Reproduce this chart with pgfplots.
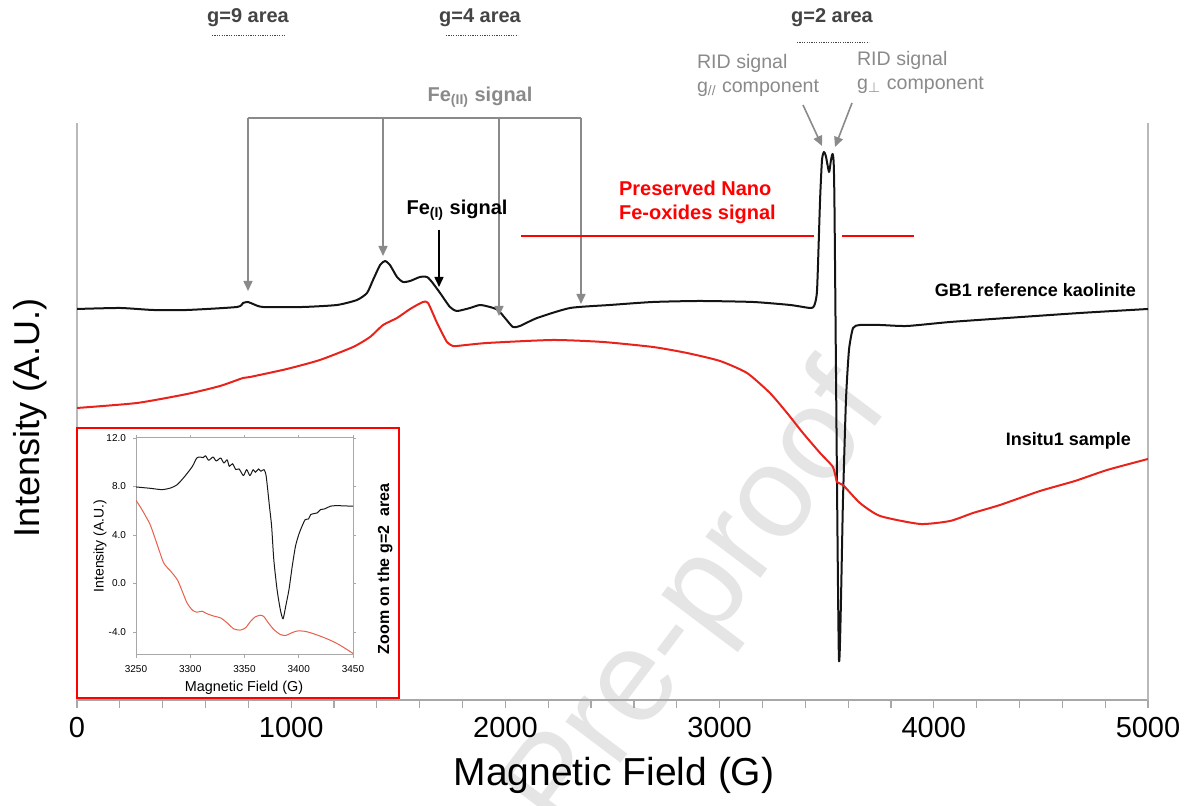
\documentclass[border=0pt]{standalone}
\usepackage{fontspec}
\setmainfont{Liberation Sans}
\usepackage{pgfplots}
\pgfplotsset{compat=1.18}
\usetikzlibrary{arrows.meta}
\definecolor{annogray}{HTML}{8A8A8A}
\definecolor{darkanno}{HTML}{444444}
\definecolor{curvered}{HTML}{E8231B}
\definecolor{insetred}{HTML}{E8604C}
\definecolor{axgray}{HTML}{A8A8A8}
\tikzset{px/.style={x=0.5pt,y=-0.5pt,shift={(0pt,403pt)}}}
\begin{document}
\begin{tikzpicture}
\useasboundingbox (0,0) rectangle (595pt,403pt);
\begin{scope}[px]
\node[rotate=53, text=black!10, font=\fontsize{65}{70}\selectfont] at (700,603) {Pre-proof};
\end{scope}
\begin{axis}[at={(38.5pt,53pt)}, anchor=south west, scale only axis,
  width=535.5pt, height=288.5pt,
  xmin=0, xmax=5000, ymin=0, ymax=577,
  axis x line*=bottom, axis y line*=box,
  x axis line style={axgray, line width=0.9pt},
  y axis line style={axgray!80, line width=0.9pt},
  xtick={0,1000,...,5000}, minor x tick num=4, ytick=\empty,
  tick align=outside, major tick length=4pt, minor tick length=4pt,
  tick style={axgray, line width=0.6pt},
  xticklabel style={font=\fontsize{14.5}{16}\selectfont, yshift=-1pt},
  /pgf/number format/1000 sep={}, /pgf/number format/assume math mode=true]
\addplot[black!92, line width=1pt, line join=round, smooth, tension=0.35] coordinates {
(0,391) (201,392) (355,390) (514,390) (747,393) (775,397) (798,398) (822,396)
(868,393) (1055,393) (1214,395) (1307,400) (1354,407) (1382,420) (1415,435)
(1438,439) (1461,435) (1494,423) (1522,418) (1555,419) (1601,423) (1634,423)
(1657,418) (1695,407) (1741,393) (1774,389) (1835,392) (1881,395) (1928,393)
(1965,390) (1998,382) (2035,373) (2068,374) (2148,382) (2302,392) (2488,395)
(2689,398) (2908,399) (3156,398) (3329,395) (3422,392) (3441,394) (3455,410)
(3469,500) (3478,540) (3487,548) (3496,544) (3511,528) (3520,540) (3529,545)
(3536,500) (3557,42) (3576,200) (3590,300) (3604,350) (3623,372) (3655,375)
(3749,375) (3875,374) (4076,378) (4342,382) (4682,387) (5000,391)};
\addplot[curvered, line width=1pt, line join=round, smooth, tension=0.35] coordinates {
(0,292) (280,297) (514,306) (668,314) (775,322) (808,323) (980,331) (1134,340)
(1289,353) (1368,363) (1429,375) (1494,382) (1555,391) (1615,398) (1639,397)
(1681,377) (1727,358) (1755,354) (1774,354) (1914,357) (2222,360) (2456,358)
(2689,353) (2848,347) (3002,339) (3128,327) (3235,307) (3315,287) (3389,267)
(3469,247) (3529,233) (3548,218) (3576,215) (3655,197) (3749,184) (3936,176)
(4076,179) (4183,187) (4309,195) (4496,209) (4659,219) (4809,230) (5000,241)};
\end{axis}
\begin{scope}[px]
\draw[red, line width=0.9pt, fill=white] (77,428) rectangle (399,698);
\end{scope}
\begin{axis}[at={(68pt,75.5pt)}, anchor=south west, scale only axis,
  width=108.5pt, height=108.5pt,
  xmin=3250, xmax=3450, ymin=-5.9, ymax=12,
  axis line style={axgray, line width=0.5pt},
  xtick={3250,3300,...,3450}, ytick={-4,0,4,8,12},
  tick align=outside, major tick length=1.5pt,
  tick style={axgray, line width=0.4pt},
  ticklabel style={font=\fontsize{5}{6}\selectfont},
  yticklabel style={/pgf/number format/.cd, fixed, fixed zerofill, precision=1},
  /pgf/number format/1000 sep={}, /pgf/number format/assume math mode=true]
\addplot[black!90, line width=0.5pt, line join=round, smooth, tension=0.4] coordinates {
(3250,7.96) (3263,7.85) (3274,7.74) (3282,7.88) (3288,8.15) (3295,8.84) (3302,9.66)
(3306,10.35) (3309,10.43) (3312,10.38) (3314,10.54) (3317,10.16) (3321,10.43)
(3324,10.1) (3328,10.35) (3331,9.94) (3334,10.2) (3336,9.66) (3339,9.88) (3342,9.39)
(3345,9.45) (3349,8.9) (3352,9.39) (3355,8.9) (3358,9.39) (3360,9.17) (3363,9.45)
(3365,9.25) (3368,9.39) (3370,8.84) (3373,6.37) (3375,4.72) (3377,1.97) (3380,-0.5)
(3383,-2.15) (3385.5,-2.92) (3388,-1.87) (3391,-0.5) (3394,1.42) (3397,3.07)
(3400,4.03) (3403,4.72) (3406,5.27) (3409,5.32) (3411,5.68) (3414,5.76) (3417,5.82)
(3420,6.09) (3424,6.15) (3429,6.37) (3435,6.42) (3450,6.37)};
\addplot[insetred, line width=0.5pt, line join=round, smooth, tension=0.4] coordinates {
(3250,6.86) (3255.5,6.09) (3263,4.86) (3269,3.35) (3275.5,1.70) (3282,1.01)
(3288,0.32) (3292,-0.5) (3297,-1.6) (3302,-2.2) (3306,-2.37) (3311,-2.29)
(3315,-2.48) (3322,-2.70) (3328,-2.84) (3334,-3.25) (3340,-3.74) (3346,-3.85)
(3351,-3.66) (3355,-3.19) (3360,-2.75) (3365,-2.62) (3368,-2.75) (3372,-3.25)
(3377,-3.80) (3383,-4.21) (3388,-4.29) (3392,-4.13) (3398,-3.93) (3404.5,-3.93)
(3411,-4.07) (3420,-4.35) (3429,-4.68) (3438,-5.09) (3450,-5.77)};
\end{axis}
\begin{scope}[px]
% inset labels
\node[font=\fontsize{7.2}{8}\selectfont] at (244,688) {Magnetic Field (G)};
\node[rotate=90, font=\fontsize{7}{8}\selectfont] at (100,546) {Intensity (A.U.)};
\node[rotate=90, font=\bfseries\fontsize{8}{9}\selectfont] at (385,569) {Zoom on the g=2\ \ area};
% main labels
\node[font=\fontsize{19.5}{22}\selectfont] at (614,775) {Magnetic Field (G)};
\node[rotate=90, font=\fontsize{18}{20}\selectfont] at (30,418) {Intensity (A.U.)};
% top area labels
\begin{scope}[font=\bfseries\fontsize{10}{12}\selectfont, text=darkanno]
\node at (248,18) {g=9 area};
\node at (480,18) {g=4 area};
\node at (832,18) {g=2 area};
\end{scope}
\draw[darkanno, line width=0.5pt, dash pattern=on 0.6pt off 0.6pt] (212,36) -- (285,36);
\draw[darkanno, line width=0.5pt, dash pattern=on 0.6pt off 0.6pt] (446,36) -- (518,36);
\draw[darkanno, line width=0.5pt, dash pattern=on 0.6pt off 0.6pt] (797,43) -- (869,43);
% Fe(II)
\node[font=\bfseries\fontsize{10}{12}\selectfont, text=annogray] at (480,97) {Fe\textsubscript{(II)} signal};
\draw[annogray, line width=0.8pt] (248,118) -- (581,118);
\begin{scope}[annogray, line width=0.8pt, -{Triangle[width=4.5pt,length=5pt]}]
\draw (248,118) -- (248,291);
\draw (383,118) -- (383,256);
\draw (499,118) -- (499,316);
\draw (581,118) -- (581,304);
\end{scope}
% Fe(I)
\node[font=\bfseries\fontsize{10}{12}\selectfont] at (457,210) {Fe\textsubscript{(I)} signal};
\draw[black, line width=0.8pt, -{Triangle[width=4.5pt,length=5pt]}] (439,230) -- (439,287);
% nano oxides
\node[anchor=west, align=left, text=red, font=\bfseries\fontsize{10}{12}\selectfont] at (612,202) {Preserved Nano\\Fe-oxides signal};
\draw[red, line width=0.6pt] (521,236) -- (814,236);
\draw[red, line width=0.6pt] (842,236) -- (914,236);
% RID
\node[anchor=west, align=left, text=annogray, font=\fontsize{9.8}{12}\selectfont] at (690,75) {RID signal\\g\textsubscript{//} component};
\node[anchor=west, align=left, text=annogray, font=\fontsize{9.8}{12}\selectfont] at (850,72) {RID signal\\g\textsubscript{$\perp$} component};
\draw[annogray, line width=0.8pt, -{Triangle[width=4.5pt,length=5pt]}] (803,105) -- (822,146);
\draw[annogray, line width=0.8pt, -{Triangle[width=4.5pt,length=5pt]}] (852,103) -- (835,147);
% sample labels
\node[anchor=east, font=\bfseries\fontsize{9}{11}\selectfont] at (1143,290) {GB1 reference kaolinite};
\node[anchor=east, font=\bfseries\fontsize{9}{11}\selectfont] at (1138,441) {Insitu1 sample};
\end{scope}
\end{tikzpicture}
\end{document}
